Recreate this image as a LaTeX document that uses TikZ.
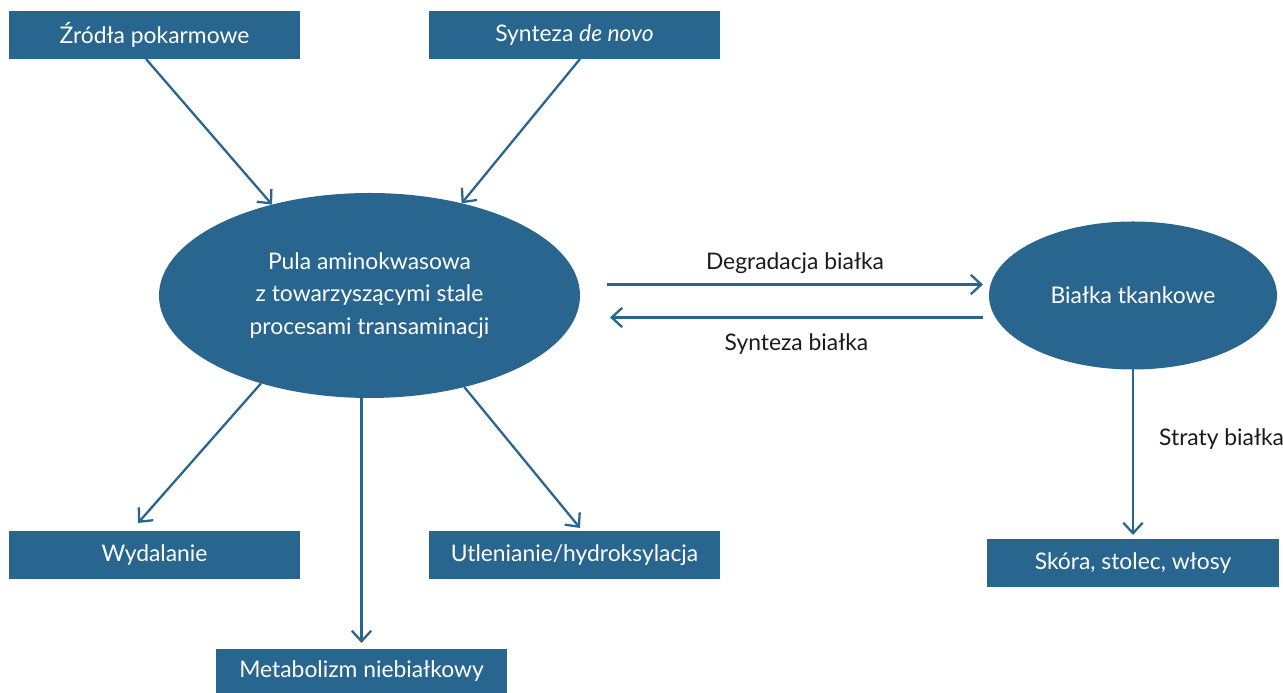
\documentclass[tikz,border=0pt]{standalone}
\usepackage{fontspec}
\setmainfont{Lato}
\usepackage{pgf,tikz}
\usetikzlibrary{shapes.geometric,arrows.meta}
\definecolor{morski}{RGB}{41,102,143}
\definecolor{napis}{RGB}{26,26,26}

\begin{document}
\begin{tikzpicture}[font=\fontsize{13}{18.5}\selectfont,
    pole/.style={rectangle, fill=morski, text=white, minimum width=5.82cm, minimum height=0.96cm, inner sep=0pt, outer sep=0pt},
    owal/.style={ellipse, fill=morski, text=white, inner sep=0pt, outer sep=0pt, align=center},
    strzalka/.style={draw=morski, line width=1.3pt, -{Straight Barb[length=6pt, width=11pt, line width=1.3pt]}},
    opis/.style={text=napis, inner sep=0pt}]
            \useasboundingbox (0,0) rectangle (25.66,13.86);
            \node[pole] (zrodla) at (3.09,13.16) {Źródła pokarmowe};
            \node[pole] (denovo) at (11.49,13.16) {Synteza \textit{de novo}};
            \node[owal, minimum width=8.42cm, minimum height=4.10cm] (pula) at (7.39,7.95) {Pula aminokwasowa\\z towarzyszącymi stale\\procesami transaminacji};
            \node[owal, minimum width=5.76cm, minimum height=2.96cm] (bialka) at (22.66,7.95) {Białka tkankowe};
            \node[pole] (wydal) at (3.09,2.76) {Wydalanie};
            \node[pole] (utlen) at (11.49,2.76) {Utlenianie/hydroksylacja};
            \node[pole, minimum height=0.88cm] (metab) at (7.23,0.44) {Metabolizm niebiałkowy};
            \node[pole, minimum width=5.84cm] (skora) at (22.66,2.60) {Skóra, stolec, włosy};
            \draw[strzalka] ([xshift=-0.17cm]zrodla.south) -- (pula.137);
            \draw[strzalka] ([xshift=0.11cm]denovo.south) -- (pula.45);
            \draw[strzalka] (pula.219) -- ([shift={(-0.33,0.16)}]wydal.north);
            \draw[strzalka] (pula.316) -- ([shift={(0.11,0.06)}]utlen.north);
            \draw[strzalka] (pula.south -| metab.north) -- ([yshift=0.12cm]metab.north);
            \draw[strzalka] ([shift={(0.54,0.22)}]pula.east) -- node[opis, above=0.2cm] (degrad) {Degradacja białka} ([shift={(-0.12,0.22)}]bialka.west);
            \draw[strzalka] ([shift={(-0.12,-0.44)}]bialka.west) -- node[opis, below=0.3cm] (synt) {Synteza białka} ([shift={(0.6,-0.44)}]pula.east);
            \draw[strzalka] (bialka.south) -- node[opis, pos=0.42, anchor=west, xshift=0.5cm] (straty) {Straty białka} ([yshift=0.08cm]skora.north);
        \end{tikzpicture}
\end{document}
